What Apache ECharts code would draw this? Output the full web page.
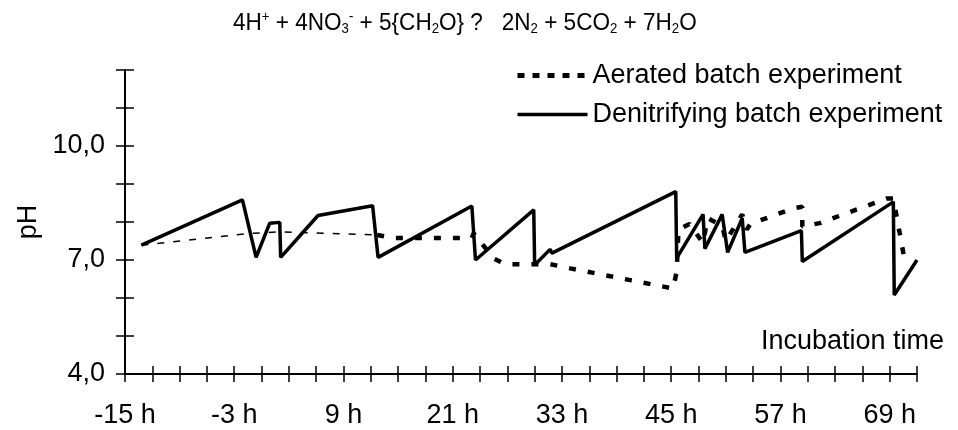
<!DOCTYPE html>
<html>
<head>
<meta charset="utf-8">
<script src="https://cdn.jsdelivr.net/npm/echarts@6/dist/echarts.min.js"></script>
<style>
html, body { margin: 0; padding: 0; background: #fff; }
#chart { width: 958px; height: 430px; }
</style>
</head>
<body>
<div id="chart"></div>
<script>
// incubation time (h) and pH
var denitTime = [-13.2, -2.1, -0.6, 0.9, 2.0, 2.1, 6.2, 12.2, 12.8, 23.1, 23.5, 29.9, 30.0, 31.7, 31.9, 45.5, 45.6, 48.5, 48.7, 50.6, 51.2, 52.8, 53.1, 59.3, 59.4, 69.4, 69.5, 72.0];
var denitPH   = [7.39, 8.58, 7.07, 7.97, 7.99, 7.07, 8.17, 8.43, 7.07, 8.42, 7.00, 8.32, 6.87, 7.28, 7.18, 8.80, 7.05, 8.20, 7.30, 8.20, 7.20, 8.10, 7.20, 7.77, 6.96, 8.53, 6.08, 7.00];

// aerated run: thin dashes at the start, thick dashes afterwards
var aerEarlyTime = [-13.2, -1.3, 2.0, 12.7];
var aerEarlyPH   = [7.39, 7.70, 7.74, 7.66];
var aerTime = [12.7, 14.5, 23.1, 23.3, 25.5, 26.8, 31.7, 33.9, 40.5, 45.2, 45.6, 45.8, 47.0, 48.5, 49.0, 50.6, 51.0, 52.8, 53.3, 53.7, 58.4, 59.4, 59.4, 61.3, 68.7, 69.4, 70.6, 71.1];
var aerPH   = [7.66, 7.58, 7.58, 7.70, 7.04, 6.89, 6.89, 6.78, 6.47, 6.25, 6.69, 7.80, 7.95, 7.45, 8.10, 7.90, 7.50, 8.20, 7.80, 7.95, 8.36, 8.40, 7.88, 7.97, 8.62, 8.62, 7.05, 7.00];

var xTickValues = [-15, -3, 9, 21, 33, 45, 57, 69];
var xTickLabels = ['-15 h', '-3 h', '9 h', '21 h', '33 h', '45 h', '57 h', '69 h'];
var yTickValues = [4, 7, 10];
var yTickLabels = ['4,0', '7,0', '10,0'];

var FONT = '"Liberation Sans", Arial, sans-serif';
var TITLE_FONT = '"Liberation Sans Narrow", "Liberation Sans", Arial, sans-serif';

function pairs(xs, ys) {
    return xs.map(function (x, i) { return [x, ys[i]]; });
}
function pick(values, labels) {
    return function (v) {
        var i = values.indexOf(Math.round(v * 100) / 100);
        return i < 0 ? '' : labels[i];
    };
}

var chart = echarts.init(document.getElementById('chart'), null, { renderer: 'canvas' });

var xBase = {
    type: 'value', min: -15, max: 72, interval: 3,
    splitLine: { show: false },
    axisLine: { onZero: false, lineStyle: { color: '#000', width: 2 } },
    axisTick: { length: 8, lineStyle: { color: '#000', width: 1.5 } },
    axisLabel: { margin: 28, color: '#000', fontSize: 27, fontFamily: FONT, formatter: pick(xTickValues, xTickLabels) }
};
var yBase = {
    type: 'value', min: 4, max: 12, interval: 1,
    splitLine: { show: false },
    axisLine: { onZero: false, lineStyle: { color: '#000', width: 2 } },
    axisTick: { length: 9, lineStyle: { color: '#000', width: 1.5 } },
    axisLabel: { margin: 20, color: '#000', fontSize: 27, fontFamily: FONT, formatter: pick(yTickValues, yTickLabels) }
};

var option = {
    animation: false,
    backgroundColor: '#fff',
    legend: {
        orient: 'vertical', left: 510, top: 57,
        itemWidth: 70, itemHeight: 28, itemGap: 12,
        textStyle: { fontSize: 27, color: '#000', fontFamily: FONT },
        data: [
            { name: 'Aerated batch experiment', itemStyle: { opacity: 0 }, lineStyle: { width: 5, type: [7, 8], color: '#000' } },
            { name: 'Denitrifying batch experiment', itemStyle: { opacity: 0 }, lineStyle: { width: 3.5, type: 'solid', color: '#000' } }
        ]
    },
    grid: { left: 125, right: 41, top: 70, bottom: 56 },
    xAxis: [
        xBase,
        echarts.util.merge({ axisLine: { show: false }, axisTick: { inside: true }, axisLabel: { show: false }, position: 'bottom' }, xBase)
    ],
    yAxis: [
        echarts.util.merge({
            name: 'pH', nameLocation: 'middle', nameGap: 74, nameRotate: 90,
            nameTextStyle: { fontSize: 27, color: '#000', fontFamily: FONT }
        }, yBase),
        echarts.util.merge({ axisLine: { show: false }, axisTick: { inside: true }, axisLabel: { show: false }, position: 'left' }, yBase)
    ],
    graphic: [
        {
            type: 'text', x: 233, y: 10, scaleX: 0.94,
            style: {
                text: '4H{sup|+} + 4NO{sub|3}{sup|-} + 5{CH{sub|2}O} ?   2N{sub|2} + 5CO{sub|2} + 7H{sub|2}O',
                fontSize: 24, fontFamily: TITLE_FONT, fill: '#000',
                rich: {
                    sub: { fontSize: 14, fontFamily: TITLE_FONT, fill: '#000', padding: [12, 0, 0, 0] },
                    sup: { fontSize: 14, fontFamily: TITLE_FONT, fill: '#000', padding: [0, 0, 11, 0] }
                }
            }
        },
        {
            type: 'text', right: 14, top: 328,
            style: { text: 'Incubation time', fontSize: 27, fill: '#000', fontFamily: FONT }
        }
    ],
    series: [
        {
            name: 'aerated start', type: 'line', symbol: 'none',
            data: pairs(aerEarlyTime, aerEarlyPH),
            itemStyle: { color: '#000' },
            lineStyle: { color: '#000', width: 1.5, type: [7, 9] }
        },
        {
            name: 'Aerated batch experiment', type: 'line', symbol: 'none',
            data: pairs(aerTime, aerPH),
            itemStyle: { color: '#000' },
            lineStyle: { color: '#000', width: 4.5, type: [7, 12] }
        },
        {
            name: 'Denitrifying batch experiment', type: 'line', symbol: 'none',
            data: pairs(denitTime, denitPH),
            itemStyle: { color: '#000' },
            lineStyle: { color: '#000', width: 3.5 }, z: 3
        }
    ]
};

chart.setOption(option);
</script>
</body>
</html>
